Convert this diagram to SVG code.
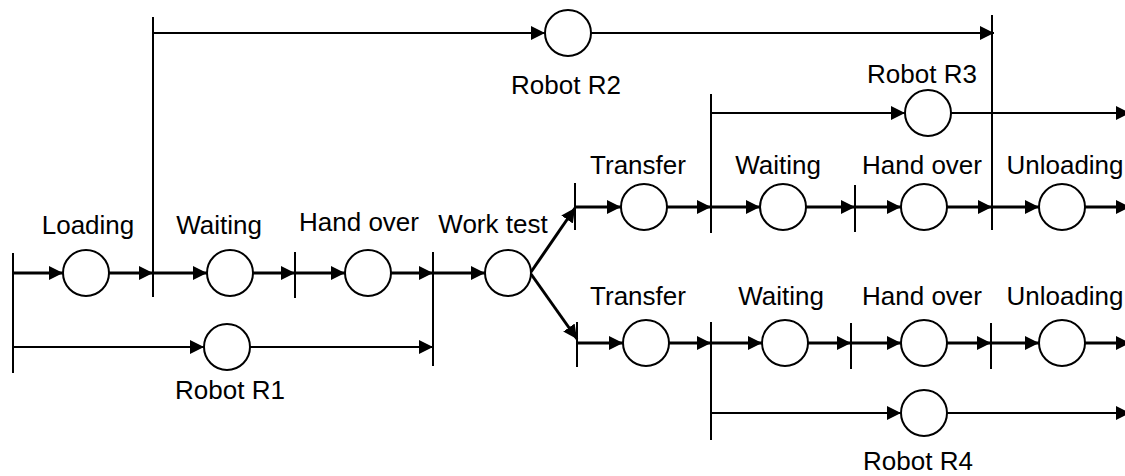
<svg xmlns="http://www.w3.org/2000/svg" width="1125" height="476" viewBox="0 0 1125 476">
<style>
.bg{fill:#fff}
.n{fill:#fff;stroke:#000;stroke-width:2}
.t{font-family:"Liberation Sans",Arial,sans-serif;font-size:26px;fill:#000;text-anchor:middle}
.m{stroke:#000;stroke-width:3;fill:none}
.r{stroke:#000;stroke-width:2;fill:none}
.v{stroke:#000;stroke-width:2;fill:none}
</style>
<defs>
<marker id="ah" viewBox="0 0 14 14" refX="14" refY="7" markerWidth="14" markerHeight="14" markerUnits="userSpaceOnUse" orient="auto">
<path d="M0,0 L14,7 L0,14 z" fill="#000"/>
</marker>
</defs>
<rect class="bg" x="0" y="0" width="1125" height="476"/>
<g id="connectors">
<line class="v" x1="13" y1="253" x2="13" y2="373"/>
<line class="v" x1="153" y1="17" x2="153" y2="297"/>
<line class="v" x1="295" y1="252" x2="295" y2="298"/>
<line class="v" x1="433" y1="252" x2="433" y2="366"/>
<line class="v" x1="575" y1="183" x2="575" y2="230"/>
<line class="v" x1="577" y1="322" x2="577" y2="367"/>
<line class="v" x1="711" y1="94" x2="711" y2="233"/>
<line class="v" x1="711" y1="322" x2="711" y2="440"/>
<line class="v" x1="855" y1="185" x2="855" y2="232"/>
<line class="v" x1="992" y1="15" x2="992" y2="230"/>
<line class="v" x1="851" y1="323" x2="851" y2="369"/>
<line class="v" x1="991" y1="323" x2="991" y2="369"/>
<line class="m" x1="13" y1="273" x2="63" y2="273" marker-end="url(#ah)"/>
<line class="m" x1="109" y1="273" x2="153" y2="273" marker-end="url(#ah)"/>
<line class="m" x1="153" y1="273" x2="207" y2="273" marker-end="url(#ah)"/>
<line class="m" x1="253" y1="273" x2="295" y2="273" marker-end="url(#ah)"/>
<line class="m" x1="295" y1="273" x2="345" y2="273" marker-end="url(#ah)"/>
<line class="m" x1="391" y1="273" x2="433" y2="273" marker-end="url(#ah)"/>
<line class="m" x1="433" y1="273" x2="485" y2="273" marker-end="url(#ah)"/>
<line class="m" x1="531" y1="272" x2="575" y2="208" marker-end="url(#ah)"/>
<line class="m" x1="531" y1="274" x2="577" y2="339" marker-end="url(#ah)"/>
<line class="m" x1="575" y1="207" x2="621" y2="207" marker-end="url(#ah)"/>
<line class="m" x1="667" y1="207" x2="711" y2="207" marker-end="url(#ah)"/>
<line class="m" x1="711" y1="207" x2="760" y2="207" marker-end="url(#ah)"/>
<line class="m" x1="806" y1="207" x2="855" y2="207" marker-end="url(#ah)"/>
<line class="m" x1="855" y1="207" x2="901" y2="207" marker-end="url(#ah)"/>
<line class="m" x1="947" y1="207" x2="992" y2="207" marker-end="url(#ah)"/>
<line class="m" x1="992" y1="207" x2="1039" y2="207" marker-end="url(#ah)"/>
<line class="m" x1="1085" y1="207" x2="1130" y2="207" marker-end="url(#ah)"/>
<line class="m" x1="577" y1="343" x2="623" y2="343" marker-end="url(#ah)"/>
<line class="m" x1="669" y1="343" x2="711" y2="343" marker-end="url(#ah)"/>
<line class="m" x1="711" y1="343" x2="762" y2="343" marker-end="url(#ah)"/>
<line class="m" x1="808" y1="343" x2="851" y2="343" marker-end="url(#ah)"/>
<line class="m" x1="851" y1="343" x2="901" y2="343" marker-end="url(#ah)"/>
<line class="m" x1="947" y1="343" x2="991" y2="343" marker-end="url(#ah)"/>
<line class="m" x1="991" y1="343" x2="1039" y2="343" marker-end="url(#ah)"/>
<line class="m" x1="1085" y1="343" x2="1130" y2="343" marker-end="url(#ah)"/>
<line class="r" x1="13" y1="347" x2="204" y2="347" marker-end="url(#ah)"/>
<line class="r" x1="250" y1="347" x2="433" y2="347" marker-end="url(#ah)"/>
<line class="r" x1="153" y1="33" x2="545" y2="33" marker-end="url(#ah)"/>
<line class="r" x1="591" y1="33" x2="994" y2="33" marker-end="url(#ah)"/>
<line class="r" x1="711" y1="113" x2="905" y2="113" marker-end="url(#ah)"/>
<line class="r" x1="951" y1="113" x2="1130" y2="113" marker-end="url(#ah)"/>
<line class="r" x1="711" y1="413" x2="901" y2="413" marker-end="url(#ah)"/>
<line class="r" x1="947" y1="413" x2="1130" y2="413" marker-end="url(#ah)"/>
</g>
<g id="loading"><circle class="n" cx="86" cy="273" r="23"/><text class="t" x="88" y="234">Loading</text></g>
<g id="waiting1"><circle class="n" cx="230" cy="273" r="23"/><text class="t" x="219" y="234">Waiting</text></g>
<g id="handover1"><circle class="n" cx="368" cy="273" r="23"/><text class="t" x="359" y="231">Hand over</text></g>
<g id="worktest"><circle class="n" cx="508" cy="273" r="23"/><text class="t" x="493" y="233">Work test</text></g>
<g id="robotR1"><circle class="n" cx="227" cy="347" r="23"/><text class="t" x="230" y="399">Robot R1</text></g>
<g id="robotR2"><circle class="n" cx="568" cy="33" r="23"/><text class="t" x="566" y="94">Robot R2</text></g>
<g id="robotR3"><circle class="n" cx="928" cy="113" r="23"/><text class="t" x="922" y="83">Robot R3</text></g>
<g id="transfer1"><circle class="n" cx="644" cy="207" r="23"/><text class="t" x="638" y="174">Transfer</text></g>
<g id="waiting2"><circle class="n" cx="783" cy="207" r="23"/><text class="t" x="778" y="174">Waiting</text></g>
<g id="handover2"><circle class="n" cx="924" cy="207" r="23"/><text class="t" x="922" y="174">Hand over</text></g>
<g id="unloading1"><circle class="n" cx="1062" cy="207" r="23"/><text class="t" x="1065" y="174">Unloading</text></g>
<g id="transfer2"><circle class="n" cx="646" cy="343" r="23"/><text class="t" x="638" y="305">Transfer</text></g>
<g id="waiting3"><circle class="n" cx="785" cy="343" r="23"/><text class="t" x="781" y="305">Waiting</text></g>
<g id="handover3"><circle class="n" cx="924" cy="343" r="23"/><text class="t" x="922" y="305">Hand over</text></g>
<g id="unloading2"><circle class="n" cx="1062" cy="343" r="23"/><text class="t" x="1065" y="305">Unloading</text></g>
<g id="robotR4"><circle class="n" cx="924" cy="413" r="23"/><text class="t" x="918" y="470">Robot R4</text></g>
</svg>
